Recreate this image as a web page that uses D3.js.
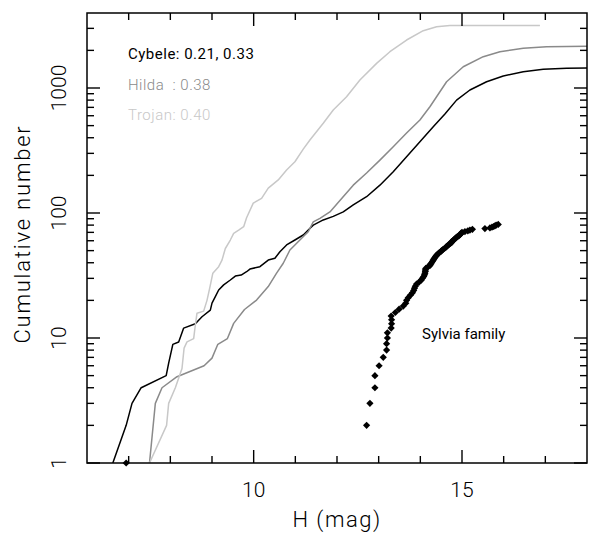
<script src='https://d3js.org/d3.v7.min.js'></script>
<style>
  body {margin:0; background:white;}
  svg text {font-family:'Roboto','Liberation Sans',sans-serif; font-weight:300; white-space:pre;}
</style>
<svg id='fig' width='589' height='538'></svg>
<script>
// cumulative counts
const cybeleH=[6.62,6.94,7.08,7.30,7.90,7.96,8.06,8.20,8.32,8.60,8.76,8.96,9.00,9.08,9.16,9.28,9.44,9.56,9.70,9.83,
               9.91,10.15,10.35,10.51,10.63,10.79,10.99,11.19,11.31,11.43,11.67,11.91,12.15,12.39,12.71,13.03,13.35,
               13.67,13.99,14.31,14.59,14.87,15.19,15.59,15.99,16.47,16.95,17.51,18.0];
const cybeleN=[1,2,3,4,5,6.3,8.9,9.3,12,13,14.8,16.7,19,21.4,24.2,26.6,29.1,31.3,31.9,33.9,
               35.6,37.2,42,43.4,49,55.5,60.8,66.7,73,80,88,94,102,116,135,167,214,
               282,372,490,620,800,964,1122,1248,1350,1413,1438,1445];
const hildaH=[7.50,7.64,7.80,8.16,8.81,9.00,9.14,9.37,9.52,9.78,10.07,10.35,10.55,10.71,10.87,11.11,11.31,11.43,
              11.59,11.83,12.07,12.39,12.71,13.03,13.35,13.67,13.99,14.23,14.39,14.63,15.03,15.51,15.91,16.47,17.03,18.0];
const hildaN=[1,3,4,4.9,6,6.9,8.9,9.9,13.1,16.9,20.1,25.8,33,39.6,50.6,60.8,70.8,84.8,
              90.7,102,126,167,209,265,339,436,555,708,851,1122,1479,1780,1952,2076,2140,2154];
const trojanH=[7.50,7.91,7.96,8.12,8.28,8.33,8.40,8.56,8.60,8.64,8.80,8.88,8.95,9.02,9.16,9.24,9.32,9.44,9.52,9.64,
               9.76,9.83,9.99,10.19,10.35,10.59,10.79,10.99,11.19,11.35,11.67,11.91,12.23,12.55,12.95,13.27,13.67,
               14.07,14.39,14.71,16.87];
const trojanN=[1,2,3,4,5.7,8.3,9.3,9.9,12.7,15.8,16.4,20,25.5,33,37.2,42,52,60.8,68.8,73,
               77.7,91.6,120,131,158,184,221,257,324,384,522,667,851,1159,1574,1952,2420,
               2873,3090,3162,3162];
// Sylvia family members, in order of H (N = rank)
const sylviaH=[6.94,12.71,12.79,12.91,12.91,13.01,13.11,13.19,13.19,13.21,13.21,13.30,13.31,13.31,13.30,13.40,13.49,
               13.59,13.65,13.67,13.71,13.76,13.81,13.84,13.86,13.88,13.91,13.97,14.02,14.05,14.08,14.10,14.11,14.12,
               14.12,14.13,14.18,14.23,14.25,14.27,14.29,14.31,14.33,14.35,14.37,14.39,14.42,14.45,14.49,14.51,14.54,
               14.58,14.61,14.63,14.66,14.69,14.72,14.75,14.75,14.78,14.80,14.83,14.85,14.87,14.90,14.93,14.95,14.97,
               14.98,15.00,15.07,15.14,15.19,15.25,15.55,15.67,15.72,15.76,15.79,15.82,15.87];
const legend=['Cybele: 0.21, 0.33','Hilda  : 0.38','Trojan: 0.40'];
const colors=['#000000','#8a8a8a','#c8c8c8'];
const xTicks=[7,8,9,10,11,12,13,14,15,16,17], xLabels=[10,15];
const yLabels=[1,10,100,1000];

const L=87,R=587,T=13,B=463;
var x=d3.scaleLinear().domain([6,18]).range([L,R]),
    y=d3.scaleLog().domain([1,Math.pow(10,3.6)]).range([B,T]);
var svg=d3.select('#fig');
svg.append('clipPath').attr('id','clip').append('rect')
   .attr('x',L).attr('y',T).attr('width',R-L).attr('height',B-T);

var line=d3.line().x(function(d) {return x(d[0]);}).y(function(d) {return y(d[1]);});
var series=[[cybeleH,cybeleN],[hildaH,hildaN],[trojanH,trojanN]];
series.forEach(function(s,i) {
    svg.append('path').datum(d3.zip(s[0],s[1]))
       .attr('clip-path','url(#clip)')
       .attr('d',line).attr('fill','none')
       .attr('stroke',colors[i]).attr('stroke-width',1.5)
       .attr('stroke-linejoin','round'); });

var diamond={draw:function(ctx,size) {
    var r=Math.sqrt(size/2);
    ctx.moveTo(0,-r); ctx.lineTo(r,0); ctx.lineTo(0,r); ctx.lineTo(-r,0); ctx.closePath();}};
svg.append('g').selectAll('path').data(sylviaH).join('path')
   .attr('transform',function(d,i) {return 'translate('+x(d)+','+y(i+1)+')';})
   .attr('d',d3.symbol().type(diamond).size(26)).attr('fill','black');

// ticks
var minorY=[];
for (var dec=1; dec<=1000; dec*=10) for (var k=2; k<10; k++) if (dec*k<Math.pow(10,3.6)) minorY.push(dec*k);
function tick(x1,y1,x2,y2) {
    svg.append('line').attr('x1',x1).attr('y1',y1).attr('x2',x2).attr('y2',y2)
       .attr('stroke','black').attr('stroke-width',1.4);}
xTicks.forEach(function(t) {
    var len=(t%5==0)?13:7;
    tick(x(t),B,x(t),B-len); tick(x(t),T,x(t),T+len); });
yLabels.forEach(function(t) {tick(L,y(t),L+13,y(t)); tick(R,y(t),R-13,y(t));});
minorY.forEach(function(t) {tick(L,y(t),L+7,y(t)); tick(R,y(t),R-7,y(t));});
svg.append('rect').attr('x',L).attr('y',T).attr('width',R-L).attr('height',B-T)
   .attr('fill','none').attr('stroke','black').attr('stroke-width',1.5);

// labels
svg.append('g').selectAll('text').data(xLabels).join('text')
   .attr('x',function(d) {return x(d);}).attr('y',497)
   .attr('text-anchor','middle').style('font-size','21px').text(function(d) {return d;});
svg.append('g').selectAll('text').data(yLabels).join('text')
   .attr('transform',function(d) {return 'translate(66,'+y(d)+') rotate(-90)';})
   .attr('text-anchor','middle').style('font-size','21px').text(function(d) {return d;});
svg.append('text').attr('x',(L+R)/2).attr('y',527).attr('text-anchor','middle')
   .style('font-size','22px').style('letter-spacing','1.5px').text('H (mag)');
svg.append('text').attr('transform','translate(30,234) rotate(-90)').attr('text-anchor','middle')
   .style('font-size','22px').style('letter-spacing','1.8px').text('Cumulative number');
legend.forEach(function(t,i) {
    svg.append('text').attr('x',128).attr('y',59+i*30.5).attr('fill',colors[i])
       .style('font-size','15px').style('letter-spacing','0.5px').style('font-weight',i==0?400:300).text(t); });
svg.append('text').attr('x',422).attr('y',339).style('font-size','15px').style('font-weight',400)
   .text('Sylvia family');
</script>
